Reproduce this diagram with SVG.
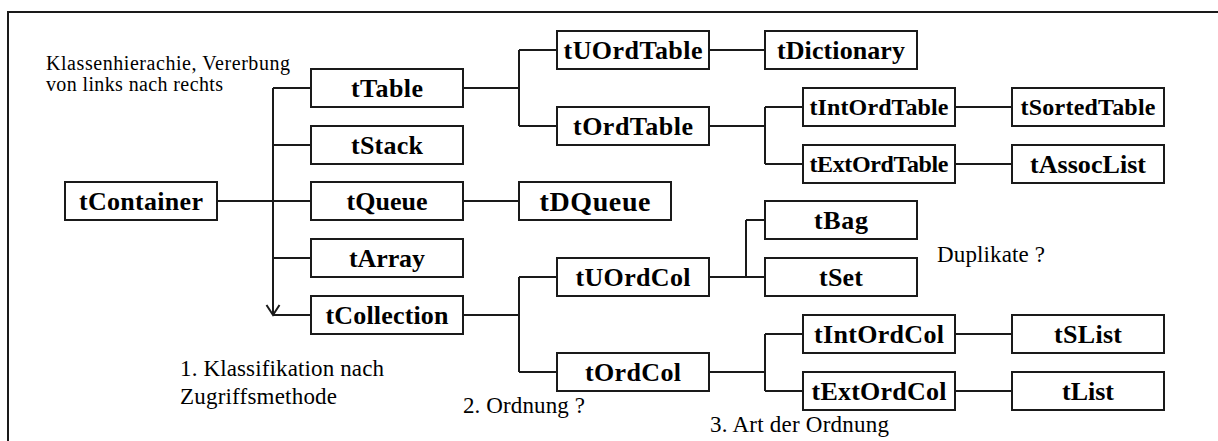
<svg xmlns="http://www.w3.org/2000/svg" width="1218" height="441" viewBox="0 0 1218 441">
<style>
text{font-family:'Liberation Serif','Times New Roman',Times,serif}
.box{fill:#fff;stroke:#1a1a1a;stroke-width:2}
.lbl{font-weight:bold;font-size:26px;fill:#000;text-anchor:middle}
.sm{font-size:24px}
.big{font-size:28px}
.note{font-size:23px;fill:#000}
.top{font-size:20px}
.conn{fill:none;stroke:#1a1a1a;stroke-width:2}
</style>
<rect width="1218" height="441" fill="#fff"/>
<path d="M8,441 V12 H1218" fill="none" stroke="#1a1a1a" stroke-width="2"/>
<g id="connectors" class="conn">
<path d="M217,201 H311"/>
<path d="M273,88 V315"/>
<path d="M273,88 H311 M273,145 H311 M273,258 H311 M273,315 H311"/>
<path d="M266.5,305 L273,315 L279.5,305"/>
<path d="M463,88 H519 M519,50 V126 M519,50 H557 M519,126 H557"/>
<path d="M709,50 H765"/>
<path d="M709,126 H765 M765,107 V164 M765,107 H803 M765,164 H803"/>
<path d="M955,107 H1012 M955,164 H1012"/>
<path d="M463,201 H519"/>
<path d="M463,315 H519 M519,277 V372 M519,277 H557 M519,372 H557"/>
<path d="M709,277 H765 M746,220 V277 M746,220 H765"/>
<path d="M709,372 H765 M765,334 V391 M765,334 H803 M765,391 H803"/>
<path d="M955,334 H1012 M955,391 H1012"/>
</g>
<g id="tContainer"><rect class="box" x="65" y="182" width="152" height="38"/><text class="lbl" x="141" y="210" font-family="Liberation Serif" textLength="124">tContainer</text></g>
<g id="tTable"><rect class="box" x="311" y="69" width="152" height="38"/><text class="lbl" x="387" y="97" textLength="72">tTable</text></g>
<g id="tStack"><rect class="box" x="311" y="126" width="152" height="38"/><text class="lbl" x="387" y="154" textLength="72">tStack</text></g>
<g id="tQueue"><rect class="box" x="311" y="182" width="152" height="38"/><text class="lbl" x="387" y="210" textLength="81">tQueue</text></g>
<g id="tArray"><rect class="box" x="311" y="239" width="152" height="38"/><text class="lbl" x="387" y="267" textLength="76">tArray</text></g>
<g id="tCollection"><rect class="box" x="311" y="296" width="152" height="38"/><text class="lbl" x="387" y="324" textLength="123">tCollection</text></g>
<g id="tUOrdTable"><rect class="box" x="557" y="31" width="152" height="38"/><text class="lbl" x="633" y="59" textLength="139">tUOrdTable</text></g>
<g id="tOrdTable"><rect class="box" x="557" y="107" width="152" height="38"/><text class="lbl" x="633" y="135" textLength="120">tOrdTable</text></g>
<g id="tDictionary"><rect class="box" x="765" y="31" width="152" height="38"/><text class="lbl" x="841" y="59" textLength="128">tDictionary</text></g>
<g id="tIntOrdTable"><rect class="box" x="803" y="88" width="152" height="38"/><text class="lbl sm" x="879" y="115" textLength="139">tIntOrdTable</text></g>
<g id="tExtOrdTable"><rect class="box" x="803" y="145" width="152" height="38"/><text class="lbl sm" x="879" y="172" textLength="139">tExtOrdTable</text></g>
<g id="tSortedTable"><rect class="box" x="1012" y="88" width="152" height="38"/><text class="lbl sm" x="1088" y="115" textLength="135">tSortedTable</text></g>
<g id="tAssocList"><rect class="box" x="1012" y="145" width="152" height="38"/><text class="lbl" x="1088" y="173" textLength="116">tAssocList</text></g>
<g id="tDQueue"><rect class="box" x="519" y="182" width="152" height="38"/><text class="lbl big" x="595" y="211" textLength="111">tDQueue</text></g>
<g id="tUOrdCol"><rect class="box" x="557" y="258" width="152" height="38"/><text class="lbl" x="633" y="286" textLength="115">tUOrdCol</text></g>
<g id="tOrdCol"><rect class="box" x="557" y="353" width="152" height="38"/><text class="lbl" x="633" y="381" textLength="96">tOrdCol</text></g>
<g id="tBag"><rect class="box" x="765" y="201" width="152" height="38"/><text class="lbl" x="841" y="229" textLength="54">tBag</text></g>
<g id="tSet"><rect class="box" x="765" y="258" width="152" height="38"/><text class="lbl" x="841" y="286" textLength="44">tSet</text></g>
<g id="tIntOrdCol"><rect class="box" x="803" y="315" width="152" height="38"/><text class="lbl" x="879" y="343" textLength="130">tIntOrdCol</text></g>
<g id="tExtOrdCol"><rect class="box" x="803" y="372" width="152" height="38"/><text class="lbl" x="879" y="400" textLength="135">tExtOrdCol</text></g>
<g id="tSList"><rect class="box" x="1012" y="315" width="152" height="38"/><text class="lbl" x="1088" y="343" textLength="68">tSList</text></g>
<g id="tList"><rect class="box" x="1012" y="372" width="152" height="38"/><text class="lbl" x="1088" y="400" textLength="52">tList</text></g>
<g id="notes">
<text class="note top" x="46" y="70" textLength="244">Klassenhierachie, Vererbung</text>
<text class="note top" x="46" y="91" textLength="177">von links nach rechts</text>
<text class="note" x="180" y="376" textLength="204">1. Klassifikation nach</text>
<text class="note" x="180" y="404" textLength="157">Zugriffsmethode</text>
<text class="note" x="463" y="413" textLength="122">2. Ordnung ?</text>
<text class="note" x="710" y="432" textLength="179">3. Art der Ordnung</text>
<text class="note" x="937" y="262" textLength="108">Duplikate ?</text>
</g>
</svg>
